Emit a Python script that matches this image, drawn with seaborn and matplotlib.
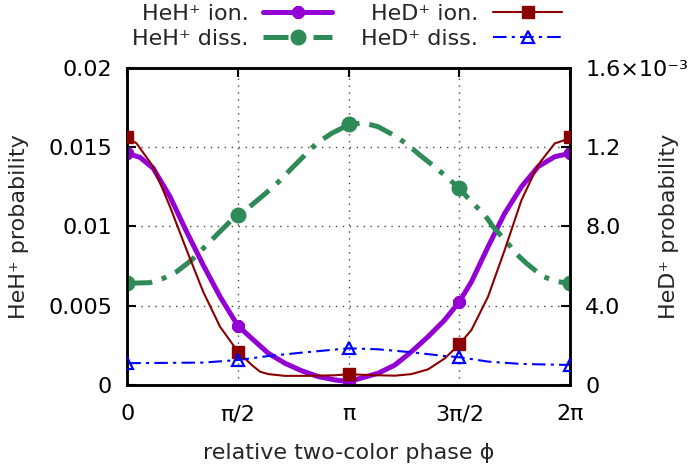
import numpy as np
import pandas as pd
import matplotlib
matplotlib.use("Agg")
import matplotlib.pyplot as plt
from matplotlib.lines import Line2D
import seaborn as sns

# ---------------- data (phase in units of pi) ----------------
phase_pts = [0.0, 0.5, 1.0, 1.5, 2.0]
heh_ion_pts = [0.01460, 0.00372, 0.00025, 0.00525, 0.01460]
heh_diss_pts = [0.00641, 0.01072, 0.01645, 0.01240, 0.00641]
hed_ion_pts = [1.249e-3, 1.68e-4, 5.4e-5, 2.05e-4, 1.249e-3]
hed_diss_pts = [1.10e-4, 1.26e-4, 1.85e-4, 1.40e-4, 1.01e-4]

# smooth curves
heh_ion_phase = [0, 0.057, 0.117, 0.193, 0.268, 0.343, 0.419, 0.5, 0.562, 0.637, 0.712,
                 0.787, 0.863, 0.938, 1.0, 1.133, 1.209, 1.284, 1.359, 1.434, 1.5, 1.555,
                 1.63, 1.705, 1.781, 1.856, 1.931, 2.0]
heh_ion_curve = [0.01460, 0.01435, 0.01366, 0.01187, 0.00966, 0.00756, 0.00557, 0.00372,
                 0.00294, 0.00200, 0.00137, 0.00090, 0.00053, 0.00032, 0.00021, 0.00074,
                 0.00126, 0.00210, 0.00305, 0.00410, 0.00525, 0.00651, 0.00872, 0.01082,
                 0.01250, 0.01376, 0.01439, 0.01460]

heh_diss_phase = [0, 0.102, 0.163, 0.223, 0.291, 0.351, 0.396, 0.479, 0.5, 0.562, 0.652,
                  0.697, 0.735, 0.810, 0.855, 0.923, 1.0, 1.066, 1.133, 1.216, 1.269, 1.321,
                  1.397, 1.449, 1.5, 1.540, 1.577, 1.615, 1.652, 1.713, 1.758, 1.803, 1.878,
                  1.946, 2.0]
heh_diss_curve = [0.00641, 0.00645, 0.00672, 0.00714, 0.00788, 0.00872, 0.00935, 0.01051,
                  0.01072, 0.01134, 0.01240, 0.01298, 0.01355, 0.01460, 0.01523, 0.01586,
                  0.01640, 0.01653, 0.01628, 0.01565, 0.01512, 0.01450, 0.01366, 0.01303,
                  0.01240, 0.01177, 0.01124, 0.01072, 0.00998, 0.00903, 0.00826, 0.00767,
                  0.00683, 0.00651, 0.00641]

hed_ion_phase = [0, 0.042, 0.117, 0.193, 0.268, 0.343, 0.419, 0.5, 0.562, 0.6, 0.637,
                 0.712, 0.787, 0.863, 0.938, 1.0, 1.133, 1.209, 1.284, 1.359, 1.434, 1.5,
                 1.555, 1.63, 1.705, 1.781, 1.856, 1.931, 1.976, 2.0]
hed_ion_curve = [1.249e-3, 1.218e-3, 1.101e-3, 8.99e-4, 6.81e-4, 4.70e-4, 2.94e-4, 1.68e-4,
                 1.01e-4, 6.7e-5, 5.5e-5, 4.6e-5, 4.6e-5, 4.7e-5, 4.9e-5, 5.4e-5, 4.9e-5,
                 4.7e-5, 5.5e-5, 7.9e-5, 1.34e-4, 2.05e-4, 2.78e-4, 4.46e-4, 6.81e-4,
                 9.33e-4, 1.110e-3, 1.218e-3, 1.235e-3, 1.249e-3]

hed_diss_phase = [0, 0.343, 0.5, 0.637, 0.787, 1.0, 1.133, 1.284, 1.434, 1.5, 1.63, 1.781, 2.0]
hed_diss_curve = [1.10e-4, 1.13e-4, 1.26e-4, 1.46e-4, 1.63e-4, 1.85e-4, 1.80e-4, 1.65e-4,
                  1.46e-4, 1.40e-4, 1.18e-4, 1.06e-4, 1.01e-4]

xtick_vals = [0, 0.5, 1.0, 1.5, 2.0]
xtick_labels = ["0", "π/2", "π", "3π/2", "2π"]
ytick_left = [0, 0.005, 0.01, 0.015, 0.02]
ytick_left_labels = ["0", "0.005", "0.01", "0.015", "0.02"]
ytick_right = [0, 4e-4, 8e-4, 1.2e-3, 1.6e-3]
ytick_right_labels = ["0", "4.0", "8.0", "1.2", "1.6×10⁻³"]
legend_labels = ["HeH⁺ ion.", "HeH⁺ diss.", "HeD⁺ ion.", "HeD⁺ diss."]

# ---------------- style ----------------
sns.set_style("white")
plt.rcParams["font.family"] = ["DejaVu Sans"]
FS = 16
plt.rcParams["font.size"] = FS

c_purple = "#9400D3"
c_green = "#2E8B57"
c_red = "#8B0000"
c_blue = "#0000FF"

fig = plt.figure(figsize=(6.88, 4.71), dpi=100)
ax = fig.add_axes([0.185, 0.1826, 0.6435, 0.6737])
ax2 = ax.twinx()

green_ls = (0, (5.0, 2.0, 1.0, 2.0))
blue_ls = (0, (6.5, 2.5, 1.5, 2.5))

# left axis: HeH+
sns.lineplot(x=heh_ion_phase, y=heh_ion_curve, ax=ax, color=c_purple, lw=3.6, sort=False)
sns.lineplot(x=heh_diss_phase, y=heh_diss_curve, ax=ax, color=c_green, lw=3.6,
             linestyle=green_ls, sort=False)
ax.plot(phase_pts, heh_ion_pts, linestyle="none", marker=(8, 2, 0), ms=9, mew=3.2,
        color=c_purple, zorder=5)
ax.plot(phase_pts, heh_diss_pts, linestyle="none", marker="o", ms=10.5,
        color=c_green, zorder=5)

# right axis: HeD+
sns.lineplot(x=hed_ion_phase, y=hed_ion_curve, ax=ax2, color=c_red, lw=1.5, sort=False)
sns.lineplot(x=hed_diss_phase, y=hed_diss_curve, ax=ax2, color=c_blue, lw=1.5,
             linestyle=blue_ls, sort=False)
ax2.plot(phase_pts, hed_ion_pts, linestyle="none", marker="s", ms=9.2, color=c_red, zorder=5)
ax2.plot(phase_pts, hed_diss_pts, linestyle="none", marker="^", ms=9, mfc="none",
         mec=c_blue, mew=1.6, zorder=5)

ax.set_xlim(0, 2)
ax.set_ylim(0, 0.02)
ax2.set_ylim(0, 1.6e-3)
ax.set_xticks(xtick_vals)
ax.set_xticklabels(xtick_labels)
ax.set_yticks(ytick_left)
ax.set_yticklabels(ytick_left_labels)
ax2.set_yticks(ytick_right)
ax2.set_yticklabels(ytick_right_labels)

for a in (ax, ax2):
    for s in a.spines.values():
        s.set_linewidth(1.8)
        s.set_color("black")
    a.tick_params(direction="in", length=6.5, width=1.5, pad=11, labelsize=FS, colors="black")
ax.tick_params(axis="x", pad=14)
ax.tick_params(top=True, right=False)
ax2.tick_params(left=False, right=True)

ax.grid(True, color="#444444", linestyle=(0, (1, 4)), linewidth=1.0)
ax.set_axisbelow(True)

ax.set_xlabel("relative two-color phase ϕ", fontsize=FS)
ax.set_ylabel("HeH⁺ probability", fontsize=FS)
ax2.set_ylabel("HeD⁺ probability", fontsize=FS)
ax.xaxis.set_label_coords(0.5, -0.183)
ax.yaxis.set_label_coords(-0.222, 0.5)
ax2.yaxis.set_label_coords(1.201, 0.5)

handles = [
    Line2D([], [], color=c_purple, lw=3.6, marker=(8, 2, 0), ms=9, mew=3.2),
    Line2D([], [], color=c_green, lw=3.6, linestyle=green_ls, marker="o", ms=10.5),
    Line2D([], [], color=c_red, lw=1.5, marker="s", ms=9.2),
    Line2D([], [], color=c_blue, lw=1.5, linestyle=blue_ls, marker="^", ms=9, mfc="none",
           mec=c_blue, mew=1.6),
]
fig.legend(handles, legend_labels, ncol=2, loc="upper left",
           bbox_to_anchor=(132 / 688, 1 - 4 / 471),
           frameon=False, markerfirst=False, borderpad=0, borderaxespad=0,
           handlelength=3.1, handletextpad=0.68, columnspacing=1.3, labelspacing=0.22,
           fontsize=FS)

fig.savefig("out.png", dpi=100)
